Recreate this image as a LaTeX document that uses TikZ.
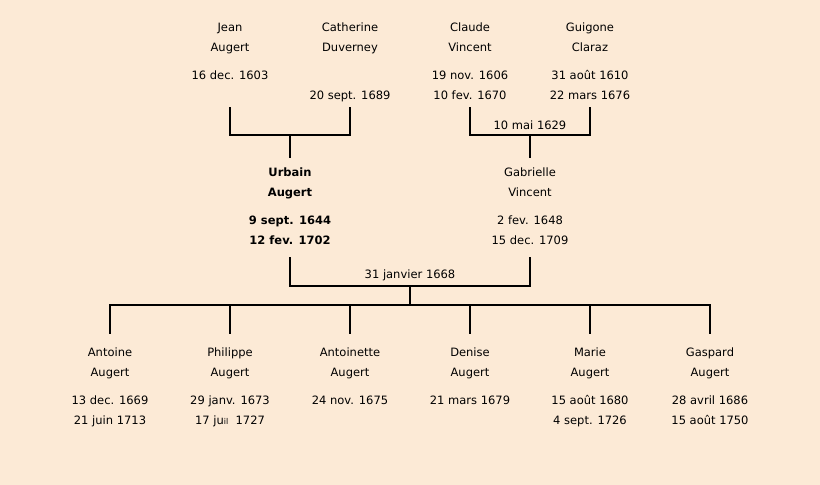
\documentclass[tikz,border=0pt]{standalone}
\usepackage{fontspec}
\setmainfont{DejaVu Sans}
\usetikzlibrary{positioning,calc}
\definecolor{parchment}{RGB}{252,234,214}
\newcommand{\fiche}[4]{\strut#1\\\strut#2\\[8pt]\strut#3\\\strut#4}

\begin{document}
\begin{tikzpicture}
	[x=1pt,y=-1pt,
	every node/.style={align=center,inner sep=0pt,anchor=north,font=\fontsize{11.5}{20}\selectfont},
	chef/.style={font=\fontsize{11.5}{20}\selectfont\bfseries},
	link/.style={draw,line width=2pt,line cap=rect},
	date/.style={anchor=center}]
	\useasboundingbox[fill=parchment] (0,0) rectangle (820,485);
	% grands-parents
	\node (jean) at (230,17.5) {\fiche{Jean}{Augert}{16 dec. 1603}{}};
	\node (catherine) at (350,17.5) {\fiche{Catherine}{Duverney}{}{20 sept. 1689}};
	\node (claude) at (470,17.5) {\fiche{Claude}{Vincent}{19 nov. 1606}{10 fev. 1670}};
	\node (guigone) at (590,17.5) {\fiche{Guigone}{Claraz}{31 août 1610}{22 mars 1676}};
	% parents
	\node[chef] (urbain) at (290,162.5) {\fiche{Urbain}{Augert}{9 sept. 1644}{12 fev. 1702}};
	\node (gabrielle) at (530,162.5) {\fiche{Gabrielle}{Vincent}{2 fev. 1648}{15 dec. 1709}};
	% enfants
	\node (antoine) at (110,342.5) {\fiche{Antoine}{Augert}{13 dec. 1669}{21 juin 1713}};
	\node (philippe) at (230,342.5) {\fiche{Philippe}{Augert}{29 janv. 1673}{17 ju{\fontsize{8}{20}\selectfont il}\ \ 1727}};
	\node (antoinette) at (350,342.5) {\fiche{Antoinette}{Augert}{24 nov. 1675}{}};
	\node (denise) at (470,342.5) {\fiche{Denise}{Augert}{21 mars 1679}{}};
	\node (marie) at (590,342.5) {\fiche{Marie}{Augert}{15 août 1680}{4 sept. 1726}};
	\node (gaspard) at (710,342.5) {\fiche{Gaspard}{Augert}{28 avril 1686}{15 août 1750}};

	% mariages
	\draw[link] ([yshift=-2.5pt]jean.south) -- ++(0,27) -| ([yshift=-2.5pt]catherine.south);
	\draw[link] ($(jean.south)!.5!(catherine.south)+(0,29.5)$) -- ([yshift=5.5pt]urbain.north);
	\draw[link] ([yshift=-2.5pt]claude.south) -- ++(0,27) -| ([yshift=-2.5pt]guigone.south);
	\node[date] at ($(claude.south)!.5!(guigone.south)+(0,19.5)$) {10 mai 1629};
	\draw[link] ($(claude.south)!.5!(guigone.south)+(0,29.5)$) -- ([yshift=5.5pt]gabrielle.north);
	\draw[link] ([yshift=-7.5pt]urbain.south) -- ++(0,28) -| ([yshift=-7.5pt]gabrielle.south);
	\node[date] at ($(urbain.south)!.5!(gabrielle.south)+(0,24.5)$) {31 janvier 1668};
	\draw[link] ($(urbain.south)!.5!(gabrielle.south)+(0,35.5)$) -- ($(urbain.south)!.5!(gabrielle.south)+(0,54.5)$);
	\draw[link] ([yshift=37.5pt]antoine.north) -- ([yshift=37.5pt]gaspard.north);
	\foreach \c in {antoine,philippe,antoinette,denise,marie,gaspard}
		\draw[link] ([yshift=9.5pt]\c.north) -- ++(0,-28);
\end{tikzpicture}
\end{document}
